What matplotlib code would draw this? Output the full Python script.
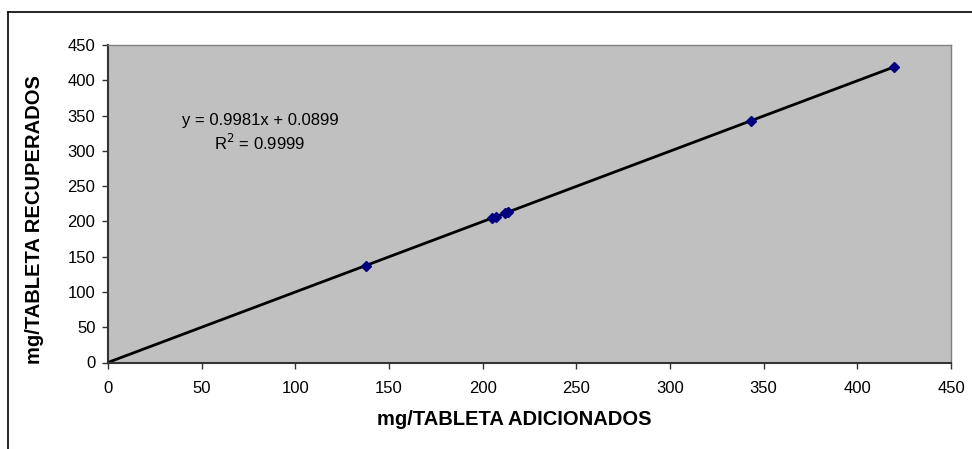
import matplotlib.pyplot as plt
import numpy as np

plt.rcParams['font.family'] = ['Liberation Sans', 'DejaVu Sans']

# mg/tablet added vs recovered
adicionados = [137.5, 205.0, 207.0, 212.0, 213.5, 343.5, 419.5]
recuperados = [137.3, 204.7, 206.7, 211.7, 213.2, 342.9, 418.8]
pendiente = 0.9981
intercepto = 0.0899
ticks = [0, 50, 100, 150, 200, 250, 300, 350, 400, 450]

fig = plt.figure(figsize=(9.72, 4.49), dpi=100)
ax = fig.add_axes([108/972, 1 - 362.5/449, (951-108)/972, (362.5-45)/449])
ax.set_facecolor('#C0C0C0')

# outer chart frame (partly cropped in reference)
fig.add_artist(plt.Line2D([8/972, 8/972], [0, 1 - 12/449], color='black', lw=1.2,
                          transform=fig.transFigure))
fig.add_artist(plt.Line2D([8/972, 1], [1 - 12/449, 1 - 12/449], color='black', lw=1.2,
                          transform=fig.transFigure))

xl = np.array([0, max(adicionados)])
ax.plot(xl, pendiente * xl + intercepto, color='black', lw=2, zorder=2)
ax.plot(adicionados, recuperados, linestyle='none', marker='D', ms=5,
        color='#000080', zorder=3)

ax.set_xlim(0, 450)
ax.set_ylim(0, 450)
ax.set_xticks(ticks)
ax.set_yticks(ticks)
ax.tick_params(labelsize=12, length=4, width=1, color='#333333', direction='out')
ax.tick_params(axis='x', pad=9)
ax.tick_params(axis='y', pad=5)

for s in ['top', 'right']:
    ax.spines[s].set_color('#808080')
    ax.spines[s].set_linewidth(1)
for s in ['left', 'bottom']:
    ax.spines[s].set_color('#333333')
    ax.spines[s].set_linewidth(1.5)

ax.set_xlabel('mg/TABLETA ADICIONADOS', fontsize=14.5, fontweight='bold')
ax.set_ylabel('mg/TABLETA RECUPERADOS', fontsize=14.5, fontweight='bold')
ax.xaxis.set_label_coords((514 - 108) / 843, -(410 - 362.5) / 317.5)
ax.yaxis.set_label_coords(-(108 - 44) / 843, (362.5 - 220) / 317.5)

ax.text((260 - 108) / 843, (362.5 - 121) / 317.5, 'y = 0.9981x + 0.0899',
        transform=ax.transAxes, fontsize=12, ha='center', va='center')
ax.text((260 - 108) / 843, (362.5 - 143) / 317.5, 'R$^2$ = 0.9999',
        transform=ax.transAxes, fontsize=12, ha='center', va='center')

fig.savefig('out.png', dpi=100)
